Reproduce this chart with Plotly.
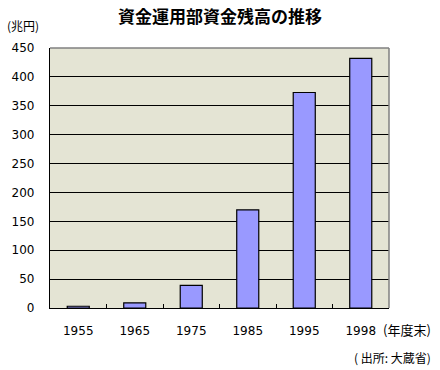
import plotly.graph_objects as go

years = ["1955", "1965", "1975", "1985", "1995", "1998"]
balance = [3, 9, 39, 170, 373, 432]
y_ticks = [0, 50, 100, 150, 200, 250, 300, 350, 400, 450]

title_text = "資金運用部資金残高の推移"
unit_text = "(兆円)"
x_unit_text = "(年度末)"
source_text = "( 出所: 大蔵省)"

FONT = "Noto Sans CJK JP"
NUMFONT = "DejaVu Sans, Noto Sans CJK JP"

fig = go.Figure()
fig.add_trace(go.Bar(
    x=years, y=balance,
    marker=dict(color="#9999FF", line=dict(color="#000000", width=1.2)),
    width=0.39,
    hoverinfo="skip",
))

fig.update_layout(
    width=440, height=370,
    margin=dict(l=50, r=51, t=48, b=62),
    paper_bgcolor="#FFFFFF",
    plot_bgcolor="#E4E4D4",
    showlegend=False,
    font=dict(family=FONT, size=13, color="#000000"),
    title=dict(text="<b>" + title_text + "</b>", x=0.5, xanchor="center",
               y=1 - 17 / 370, yanchor="middle",
               font=dict(family=FONT, size=17, color="#000000")),
    bargap=0.61,
)

fig.update_xaxes(
    type="category",
    showline=True, linecolor="#000000", linewidth=1.2,
    ticks="inside", tickson="boundaries", ticklen=4, tickcolor="#000000",
    showgrid=False,
    ticklabelstandoff=11,
    tickfont=dict(family=NUMFONT, size=12),
)
fig.update_yaxes(
    range=[0, 450],
    tickvals=y_ticks,
    showline=True, linecolor="#000000", linewidth=1.2,
    showgrid=True, gridcolor="#000000", gridwidth=1,
    zeroline=False,
    ticks="",
    ticklabelstandoff=12,
    tickfont=dict(family=NUMFONT, size=12),
)

# gray top and right border of plot area
fig.add_shape(type="line", xref="paper", yref="paper", x0=0, x1=1, y0=1, y1=1,
              line=dict(color="#808080", width=1.5), layer="above")
fig.add_shape(type="line", xref="paper", yref="paper", x0=1, x1=1, y0=0, y1=1,
              line=dict(color="#808080", width=1.5), layer="above")

fig.add_annotation(text=unit_text, xref="paper", yref="paper",
                   x=(5 - 50) / 339, y=(308 - 25) / 260, xanchor="left", yanchor="middle",
                   showarrow=False, font=dict(family=FONT, size=12))
fig.add_annotation(text=x_unit_text, xref="paper", yref="paper",
                   x=(433 - 50) / 339, y=(308 - 329) / 260, xanchor="right", yanchor="middle",
                   showarrow=False, font=dict(family=FONT, size=13))
fig.add_annotation(text=source_text, xref="paper", yref="paper",
                   x=(433 - 50) / 339, y=(308 - 357) / 260, xanchor="right", yanchor="middle",
                   showarrow=False, font=dict(family=FONT, size=12))

fig.write_html("out.html",
               config={"displayModeBar": False},
               post_script="document.body.style.margin='0';document.body.style.padding='0';")
